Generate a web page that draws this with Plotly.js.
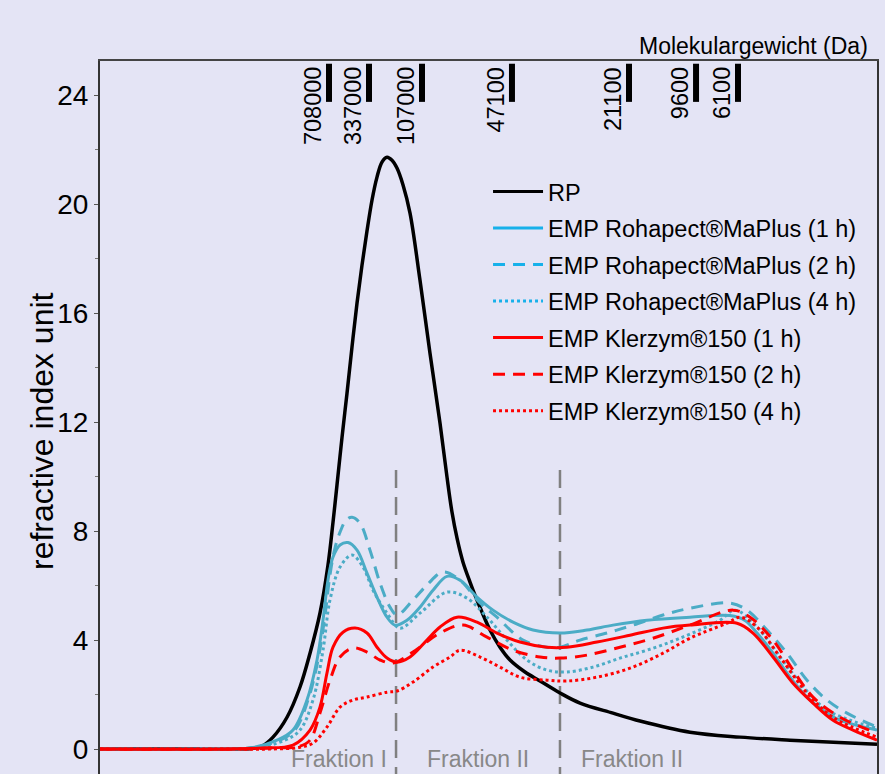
<!DOCTYPE html>
<html>
<head>
<meta charset="utf-8">
<script src="https://cdn.plot.ly/plotly-3.0.1.min.js"></script>
<style>
html,body{margin:0;padding:0;overflow:hidden;background:#e4e4f5;}
#chart{width:885px;height:790px;}
</style>
</head>
<body>
<div id="chart"></div>
<script>
// x: elution position (arbitrary units, 0-100), y: refractive index unit
var rpX = [0, 12.87, 18.02, 19.95, 20.85, 22.27, 24.07, 25.74, 27.03, 28.31, 29.34, 29.99, 30.50, 31.15, 31.79, 32.43, 33.08, 33.72, 34.36, 35.01, 35.65, 36.29, 36.94, 37.58, 38.22, 39.00, 39.90, 41.18, 42.47, 43.76, 44.66, 45.30, 45.95, 46.72, 47.62, 48.26, 49.16, 50.19, 51.48, 52.77, 54.70, 56.63, 59.20, 61.78, 66.02, 69.50, 75.93, 82.37, 88.80, 100];
var rpY = [0, 0, 0, 0.04, 0.11, 0.44, 1.17, 2.28, 3.52, 4.99, 6.75, 8.33, 9.69, 11.45, 13.06, 14.75, 16.37, 17.76, 19.01, 20.15, 20.99, 21.54, 21.72, 21.61, 21.32, 20.70, 19.67, 17.21, 14.53, 11.96, 9.98, 8.70, 7.74, 6.86, 6.13, 5.65, 5.03, 4.37, 3.74, 3.27, 2.83, 2.50, 2.06, 1.69, 1.32, 1.03, 0.62, 0.44, 0.33, 0.18];

var r1X = [0, 12.87, 19.31, 22.78, 24.84, 26.64, 27.93, 28.70, 29.34, 29.99, 30.89, 31.92, 33.08, 34.36, 35.65, 36.94, 37.97, 39.51, 41.18, 42.86, 44.66, 46.33, 48.52, 50.58, 53.15, 55.73, 59.20, 62.68, 66.02, 70.40, 75.93, 81.08, 83.01, 84.56, 86.62, 88.80, 90.99, 93.05, 95.24, 100];
var r1Y = [0, 0, 0.04, 0.33, 0.70, 1.80, 3.27, 4.73, 6.20, 7.05, 7.49, 7.58, 7.30, 6.46, 5.58, 4.84, 4.55, 4.73, 5.21, 5.83, 6.34, 6.20, 5.58, 5.10, 4.66, 4.37, 4.26, 4.37, 4.55, 4.73, 4.84, 4.90, 4.72, 4.26, 3.52, 2.64, 1.91, 1.43, 1.06, 0.70];

var r2X = [0, 12.87, 19.56, 23.17, 25.10, 26.77, 28.06, 28.96, 29.60, 30.24, 30.89, 31.66, 32.43, 33.46, 34.75, 36.04, 37.32, 38.22, 40.28, 42.08, 44.14, 46.33, 48.91, 51.09, 54.44, 57.53, 59.20, 61.78, 65.25, 68.60, 72.46, 75.93, 81.08, 83.27, 85.84, 88.42, 90.99, 93.56, 96.14, 100];
var r2Y = [0, 0, 0.04, 0.33, 0.70, 1.80, 3.27, 4.92, 6.39, 7.38, 7.96, 8.40, 8.51, 8.29, 7.30, 6.09, 5.21, 4.92, 5.47, 6.02, 6.50, 6.20, 5.36, 4.84, 4.00, 3.74, 3.74, 4.00, 4.26, 4.55, 4.92, 5.17, 5.36, 5.10, 4.37, 3.52, 2.53, 1.80, 1.32, 0.81];

var r4X = [0, 12.87, 19.95, 23.81, 25.74, 27.41, 28.70, 29.60, 30.89, 32.43, 33.85, 35.14, 36.94, 38.61, 41.18, 44.66, 47.23, 49.81, 52.38, 54.95, 57.53, 60.10, 63.45, 66.92, 70.40, 74.65, 79.79, 81.73, 84.56, 88.80, 93.05, 96.53, 100];
var r4Y = [0, 0, 0.04, 0.33, 0.70, 1.80, 3.63, 5.47, 6.68, 7.12, 6.68, 5.83, 4.99, 4.44, 4.99, 5.76, 5.54, 4.84, 4.00, 3.27, 2.90, 2.83, 3.01, 3.34, 3.63, 4.07, 4.73, 5.10, 4.48, 2.90, 1.54, 1.06, 0.77];

var k1X = [0, 16.73, 20.85, 24.84, 27.03, 28.31, 29.21, 29.99, 31.27, 32.82, 34.36, 35.65, 36.94, 38.22, 39.90, 42.08, 43.76, 45.95, 48.52, 51.09, 54.05, 57.53, 60.10, 63.96, 68.21, 72.46, 75.93, 81.98, 84.04, 86.62, 89.19, 91.76, 94.34, 96.91, 100];
var k1Y = [0, 0, 0.04, 0.15, 0.70, 1.54, 2.79, 3.74, 4.29, 4.44, 4.26, 3.74, 3.34, 3.19, 3.38, 4.00, 4.48, 4.84, 4.66, 4.26, 3.93, 3.74, 3.74, 3.93, 4.18, 4.44, 4.55, 4.62, 4.26, 3.38, 2.42, 1.69, 1.06, 0.70, 0.33];

var k2X = [0, 18.02, 21.88, 25.74, 27.03, 28.31, 29.60, 30.89, 32.56, 34.36, 36.04, 37.71, 40.28, 43.76, 46.72, 49.81, 53.15, 56.63, 59.20, 62.68, 66.92, 71.17, 75.93, 81.47, 83.66, 86.62, 89.19, 91.76, 95.24, 100];
var k2Y = [0, 0, 0.04, 0.11, 0.33, 1.32, 2.53, 3.38, 3.71, 3.56, 3.27, 3.16, 3.56, 4.26, 4.55, 4.11, 3.63, 3.38, 3.34, 3.45, 3.74, 4.07, 4.55, 5.10, 4.84, 4.00, 2.90, 1.91, 1.17, 0.59];

var k4X = [0, 18.02, 21.49, 25.74, 27.41, 29.21, 30.89, 32.56, 34.36, 36.94, 38.22, 40.28, 42.86, 45.05, 46.33, 48.91, 51.48, 54.05, 57.53, 60.10, 63.96, 68.21, 72.46, 75.93, 80.69, 82.37, 84.56, 87.52, 90.99, 94.34, 100];
var k4Y = [0, 0, 0, 0.07, 0.22, 0.81, 1.54, 1.80, 1.91, 2.09, 2.13, 2.46, 3.01, 3.38, 3.63, 3.38, 3.01, 2.64, 2.53, 2.50, 2.64, 2.97, 3.52, 4.07, 4.62, 4.84, 4.48, 3.38, 2.06, 1.17, 0.44];

// molecular weight standards (Da) and their elution positions
var mwLabels = ["708000", "337000", "107000", "47100", "21100", "9600", "6100"];
var mwX = [29.47, 34.62, 41.44, 53.02, 68.08, 76.71, 82.11];
var mwBarBottom = 23.75;
var mwBarTop = 25.15;

// fraction boundaries and labels
var fracLineX = [38.10, 59.20];
var fracLineTop = 10.24;
var fracLabels = ["Fraktion I", "Fraktion II", "Fraktion II"];
var fracLabelX = [30.76, 48.65, 68.47];
var fracLabelY = -0.92;

var seriesNames = ["RP", "EMP Rohapect®MaPlus (1 h)", "EMP Rohapect®MaPlus (2 h)", "EMP Rohapect®MaPlus (4 h)", "EMP Klerzym®150 (1 h)", "EMP Klerzym®150 (2 h)", "EMP Klerzym®150 (4 h)"];

var yTicks = [0, 4, 8, 12, 16, 20, 24];

var TEAL = "#4bacc6", SKY = "#17b0ea", RED = "#ff0000", BLACK = "#000000";
var DASH = "12px,8px", DOT = "3px,3px";

var seriesX = [rpX, r1X, r2X, r4X, k1X, k2X, k4X];
var seriesY = [rpY, r1Y, r2Y, r4Y, k1Y, k2Y, k4Y];
var curveColor = [BLACK, TEAL, TEAL, TEAL, RED, RED, RED];
var legendColor = [BLACK, SKY, SKY, SKY, RED, RED, RED];
var dashes = ["solid", "solid", DASH, DOT, "solid", DASH, DOT];
var widths = [3.5, 3, 3, 3, 3, 3, 3];

var traces = [];
for (var i = 0; i < seriesX.length; i++) {
  traces.push({
    x: seriesX[i], y: seriesY[i], type: "scatter", mode: "lines",
    line: {color: curveColor[i], width: widths[i], dash: dashes[i], shape: "spline", smoothing: 1},
    showlegend: false, hoverinfo: "skip"
  });
}
// legend entries (drawn in the legend only)
for (var j = 0; j < seriesNames.length; j++) {
  traces.push({
    x: [null], y: [null], type: "scatter", mode: "lines", name: seriesNames[j],
    legendgroup: "g" + j,
    line: {color: legendColor[j], width: 3, dash: dashes[j]},
    showlegend: true
  });
}
// molecular weight bars
var barX = [], barY = [];
for (var m = 0; m < mwX.length; m++) {
  barX.push(mwX[m], mwX[m], null);
  barY.push(mwBarBottom, mwBarTop, null);
}
traces.push({x: barX, y: barY, type: "scatter", mode: "lines",
  line: {color: "#000", width: 6}, showlegend: false, hoverinfo: "skip"});

var shapes = fracLineX.map(function (fx) {
  return {type: "line", xref: "x", yref: "y", x0: fx, x1: fx, y0: fracLineTop, y1: -1.5,
    line: {color: "#808080", width: 2.5, dash: "18px,9px"}, layer: "below"};
});

var FONT = "Liberation Sans, Arial, sans-serif";
var annotations = [];
for (var a = 0; a < mwX.length; a++) {
  annotations.push({x: mwX[a], y: mwBarTop - 0.05, xref: "x", yref: "y", text: mwLabels[a],
    textangle: -90, showarrow: false, xanchor: "right", yanchor: "top", xshift: -1,
    font: {family: FONT, size: 23.5, color: "#000"}});
}
for (var f = 0; f < fracLabels.length; f++) {
  annotations.push({x: fracLabelX[f], y: fracLabelY, xref: "x", yref: "y", text: fracLabels[f],
    showarrow: false, xanchor: "center", yanchor: "bottom",
    font: {family: FONT, size: 23, color: "#888888"}});
}
annotations.push({x: 0.991, y: 1.021, xref: "paper", yref: "paper", text: "Molekulargewicht (Da)",
  showarrow: false, xanchor: "right", yanchor: "middle", font: {family: FONT, size: 23, color: "#000"}});
annotations.push({x: -0.0746, y: 0.4925, xref: "paper", yref: "paper", text: "refractive index unit",
  textangle: -90, showarrow: false, xanchor: "center", yanchor: "middle",
  font: {family: FONT, size: 32, color: "#000"}});

var layout = {
  width: 885, height: 790,
  margin: {l: 100, r: 8, t: 61, b: 0},
  paper_bgcolor: "#e4e4f5", plot_bgcolor: "#e4e4f5",
  font: {family: FONT, color: "#000"},
  showlegend: true,
  legend: {x: 0.4994, y: 0.851, xanchor: "left", yanchor: "top", bgcolor: "rgba(0,0,0,0)",
    itemwidth: 50,
    font: {family: FONT, size: 23.5, color: "#000"}, traceorder: "grouped", tracegroupgap: 3},
  xaxis: {range: [0, 100], showgrid: false, zeroline: false, showticklabels: false, ticks: "",
    showline: true, mirror: true, linecolor: "#444", linewidth: 2},
  yaxis: {range: [-1.5, 25.25], showgrid: false, zeroline: false, tickvals: yTicks,
    ticks: "outside", ticklen: 4, tickcolor: "#555", tickwidth: 1,
    minor: {dtick: 2, tick0: 0, ticks: "outside", ticklen: 3, tickcolor: "#777"},
    tickfont: {family: FONT, size: 28, color: "#000"},
    showline: true, mirror: true, linecolor: "#333", linewidth: 2},
  shapes: shapes,
  annotations: annotations
};

Plotly.newPlot("chart", traces, layout, {displayModeBar: false, staticPlot: true});
</script>
</body>
</html>
